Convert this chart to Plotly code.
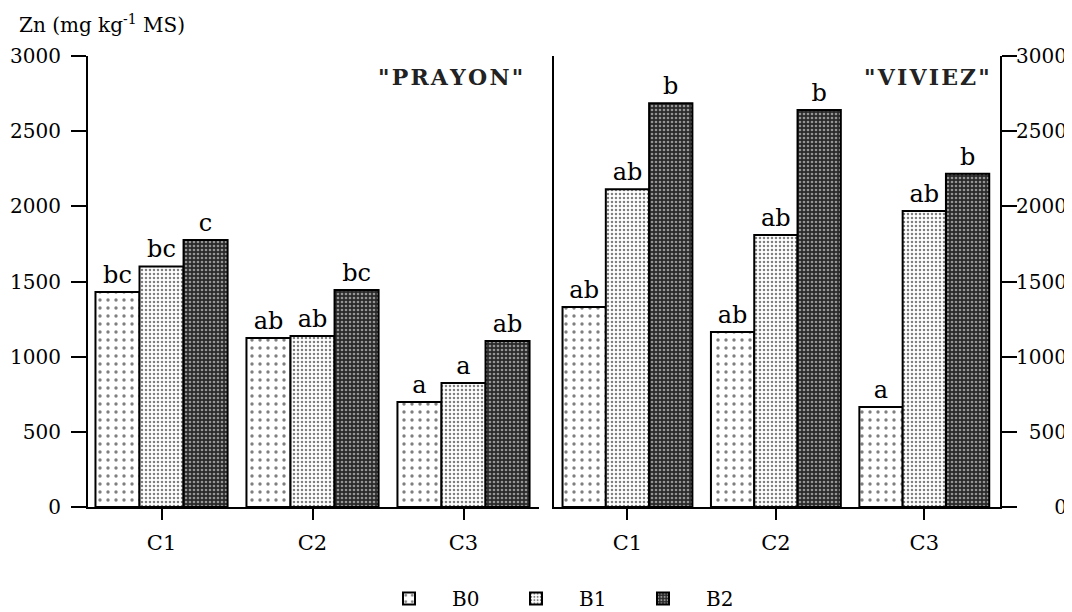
import plotly.graph_objects as go

# ---- data ----
categories = ["C1", "C2", "C3"]
series_names = ["B0", "B1", "B2"]

prayon_B0 = [1430, 1124, 698]
prayon_B1 = [1600, 1137, 825]
prayon_B2 = [1776, 1443, 1104]
prayon_B0_letters = ["bc", "ab", "a"]
prayon_B1_letters = ["bc", "ab", "a"]
prayon_B2_letters = ["c", "bc", "ab"]

viviez_B0 = [1330, 1164, 665]
viviez_B1 = [2113, 1809, 1969]
viviez_B2 = [2685, 2641, 2217]
viviez_B0_letters = ["ab", "ab", "a"]
viviez_B1_letters = ["ab", "ab", "ab"]
viviez_B2_letters = ["b", "b", "b"]

y_tickvals = [0, 500, 1000, 1500, 2000, 2500, 3000]
y_ticktext_left = ["0", "500", "1000", "1500", "2000", "2500", "3000"]
FS = "\u2007"
y_ticktext_right = [FS * 3 + "0", FS + "500", "1000", "1500", "2000", "2500", "3000"]

# ---- styles ----
# page body has an 8px margin: figure is sized to fit the window
OFF = 8
W, H = 1072 - OFF, 612 - OFF
SERIF = "DejaVu Serif"
patterns = {
    "B0": dict(shape=".", fgcolor="black", bgcolor="white", size=8, solidity=0.14),
    "B1": dict(shape=".", fgcolor="black", bgcolor="white", size=4, solidity=0.32),
    "B2": dict(shape=".", fgcolor="white", bgcolor="#2a2a2a", size=4, solidity=0.35),
}

fig = go.Figure()

panels = [
    ("x", "y", [prayon_B0, prayon_B1, prayon_B2],
     [prayon_B0_letters, prayon_B1_letters, prayon_B2_letters], True),
    ("x2", "y2", [viviez_B0, viviez_B1, viviez_B2],
     [viviez_B0_letters, viviez_B1_letters, viviez_B2_letters], False),
]
for xa, ya, vals, letters, showleg in panels:
    for name, v, t in zip(series_names, vals, letters):
        fig.add_trace(go.Bar(
            x=categories, y=v, name=name, text=t,
            textposition="outside", constraintext="none", cliponaxis=False,
            textfont=dict(family=SERIF, size=24, color="black"),
            marker=dict(color="white", pattern=patterns[name],
                        line=dict(color="black", width=2)),
            xaxis=xa, yaxis=ya, legendgroup=name, showlegend=showleg,
            offsetgroup=name,
        ))


def px(p):
    return (p - OFF) / W


def py(p):
    return 1 - (p - OFF) / H


axis_font = dict(family=SERIF, size=21, color="black")
ytick_font = dict(family=SERIF, size=20, color="black")

fig.update_layout(
    width=W, height=H,
    margin=dict(l=0, r=0, t=0, b=0, autoexpand=False),
    paper_bgcolor="white", plot_bgcolor="white",
    barmode="group", bargap=0.125, bargroupgap=0,
    font=dict(family=SERIF, color="black"),
    xaxis=dict(domain=[px(88), px(539)], range=[-0.487, 2.5], anchor="y",
               showline=True, linecolor="black", linewidth=2,
               ticks="outside", ticklen=11, tickwidth=2, tickcolor="black",
               tickfont=axis_font, ticklabelstandoff=5, showgrid=False, zeroline=False),
    yaxis=dict(domain=[py(507), py(56)], range=[0, 3000], anchor="x",
               showline=True, linecolor="black", linewidth=2,
               ticks="outside", ticklen=15, tickwidth=2, tickcolor="black",
               tickvals=y_tickvals, ticktext=y_ticktext_left,
               tickfont=ytick_font, ticklabelstandoff=6, showgrid=False, zeroline=False),
    xaxis2=dict(domain=[px(554), px(1000)], range=[-0.495, 2.51], anchor="y2",
                showline=True, linecolor="black", linewidth=2,
                ticks="outside", ticklen=11, tickwidth=2, tickcolor="black",
                tickfont=axis_font, ticklabelstandoff=5, showgrid=False, zeroline=False),
    yaxis2=dict(domain=[py(507), py(56)], range=[0, 3000], anchor="x2", side="right",
                showline=True, mirror=True, linecolor="black", linewidth=2,
                ticks="outside", ticklen=15, tickwidth=2, tickcolor="black",
                tickvals=y_tickvals, ticktext=y_ticktext_right,
                tickfont=ytick_font, ticklabelstandoff=-5, showgrid=False, zeroline=False),
    legend=dict(orientation="h", x=px(366), xanchor="left", y=-6 / H, yanchor="bottom",
                font=dict(family=SERIF, size=20, color="black"),
                itemwidth=76, entrywidth=36, entrywidthmode="pixels",
                bgcolor="rgba(0,0,0,0)"),
    showlegend=True,
)

# axis line extensions
fig.add_shape(type="line", xref="paper", yref="y", x0=px(80), x1=px(88), y0=0, y1=0,
              line=dict(color="black", width=2))
fig.add_shape(type="line", xref="paper", yref="y2", x0=px(1000), x1=px(1015), y0=0, y1=0,
              line=dict(color="black", width=2))

HS = "\u200a"
fig.add_annotation(text="Zn (mg kg<sup>-1</sup> MS)", xref="paper", yref="paper",
                   x=px(17), y=py(24), xanchor="left", yanchor="middle", showarrow=False,
                   font=dict(family=SERIF, size=20, color="black"))
fig.add_annotation(text=HS.join('"PRAYON"'), xref="paper", yref="paper",
                   x=px(450), y=py(77), xanchor="center", yanchor="middle", showarrow=False,
                   font=dict(family=SERIF, size=22, color="#222", weight="bold"))
fig.add_annotation(text=HS.join('"VIVIEZ"'), xref="paper", yref="paper",
                   x=px(927), y=py(77), xanchor="center", yanchor="middle", showarrow=False,
                   font=dict(family=SERIF, size=22, color="#222", weight="bold"))

fig.write_html("out.html")
